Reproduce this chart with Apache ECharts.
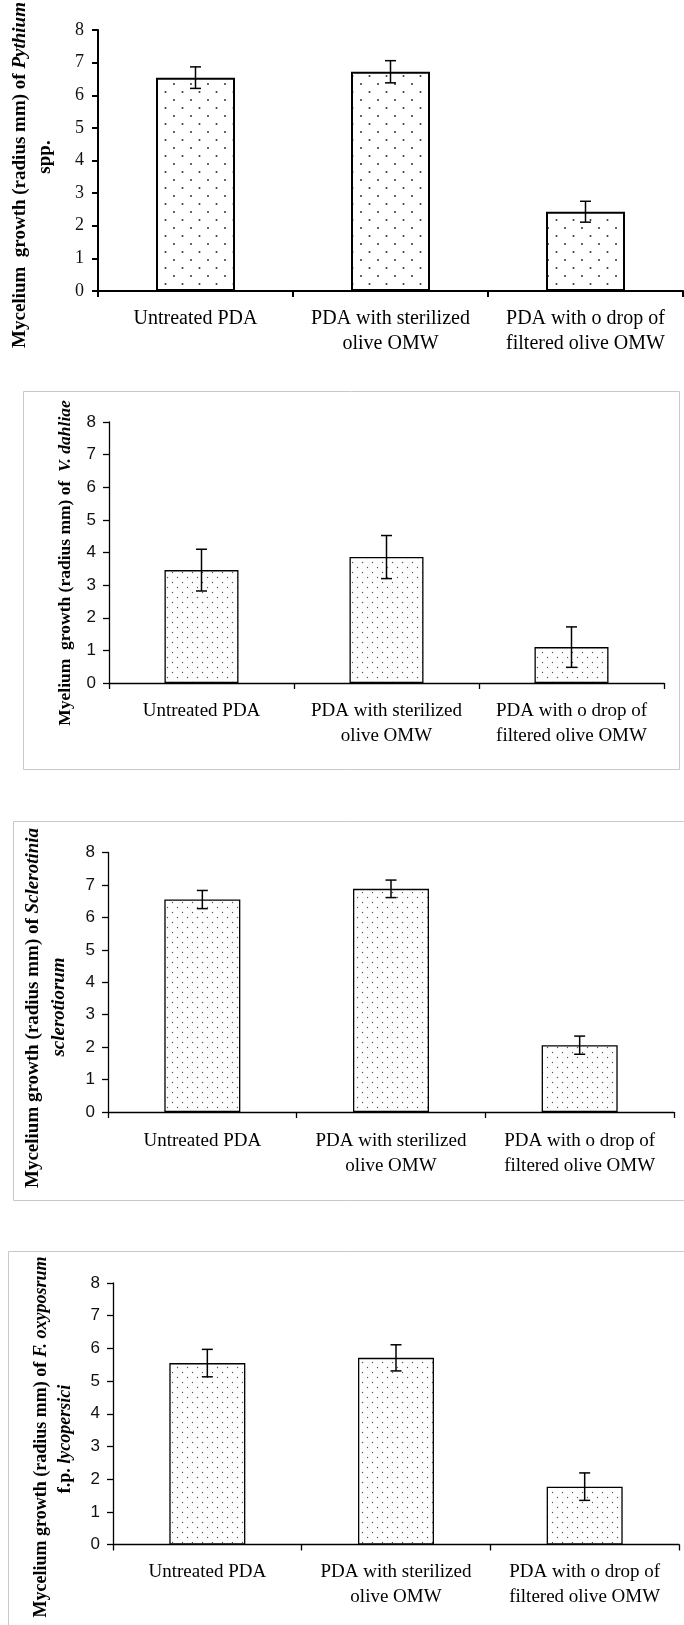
<!DOCTYPE html>
<html><head><meta charset="utf-8">
<script src="https://cdn.jsdelivr.net/npm/echarts@6/dist/echarts.min.js"></script>
<style>html,body{margin:0;padding:0;background:#fff}#c{width:684px;height:1625px}</style>
</head><body><div id="c"></div>
<script>
// ---- data ----
const categories = ['Untreated PDA', 'PDA with sterilized\nolive OMW', 'PDA with o drop of\nfiltered olive OMW'];
const yMin = 0, yMax = 8, yInterval = 1;
const pythiumMean = [6.54, 6.72, 2.43];
const pythiumErr  = [0.33, 0.34, 0.32];
const dahliaeMean = [3.46, 3.86, 1.10];
const dahliaeErr  = [0.64, 0.66, 0.62];
const scleroMean  = [6.55, 6.88, 2.06];
const scleroErr   = [0.28, 0.27, 0.28];
const fusMean     = [5.55, 5.71, 1.77];
const fusErr      = [0.42, 0.40, 0.42];

// ---- patterns ----
function makePattern(w, h, dots, r, color) {
  const c = document.createElement('canvas');
  c.width = w; c.height = h;
  const g = c.getContext('2d');
  g.fillStyle = '#fff'; g.fillRect(0, 0, w, h);
  g.fillStyle = color;
  dots.forEach(d => { g.beginPath(); g.arc(d[0], d[1], r, 0, Math.PI * 2); g.fill(); });
  return c;
}
const patCoarse = makePattern(17, 16, [[4, 4], [12.5, 12]], 1.0, '#333');
const patFine = makePattern(10, 10, [[2.5, 2.5], [7.5, 7.5]], 0.7, '#555');

// ---- layout ----
const panels = [
  { mean: pythiumMean, err: pythiumErr, grid: { left: 98, top: 30, width: 585, height: 261 }, barWidth: 79,
    tickFont: 'Liberation Serif', tickSize: 18, tickMargin: 14, labSize: 20, labMargin: 15, pat: patCoarse, lw: 2 },
  { mean: dahliaeMean, err: dahliaeErr, grid: { left: 109, top: 422, width: 555, height: 261 }, barWidth: 74,
    tickFont: 'Liberation Sans', tickSize: 17, tickMargin: 13, labSize: 19, labMargin: 16, pat: patFine, lw: 1.3 },
  { mean: scleroMean, err: scleroErr, grid: { left: 108, top: 852.5, width: 566, height: 259.5 }, barWidth: 76,
    tickFont: 'Liberation Sans', tickSize: 17, tickMargin: 13, labSize: 19, labMargin: 17, pat: patFine, lw: 1.3 },
  { mean: fusMean, err: fusErr, grid: { left: 113, top: 1283, width: 566, height: 261.5 }, barWidth: 76,
    tickFont: 'Liberation Sans', tickSize: 17, tickMargin: 13, labSize: 19, labMargin: 15, pat: patFine, lw: 1.3 }
];

const grid = [], xAxis = [], yAxis = [], series = [];
panels.forEach((p, i) => {
  grid.push(Object.assign({ containLabel: false }, p.grid));
  xAxis.push({
    type: 'category', gridIndex: i, data: categories,
    axisLine: { lineStyle: { color: '#000', width: p.lw } },
    axisTick: { show: true, length: 6, alignWithLabel: false, lineStyle: { color: '#000', width: p.lw } },
    axisLabel: { interval: 0, fontFamily: 'Liberation Serif', fontSize: p.labSize, lineHeight: 25, color: '#000', margin: p.labMargin },
    splitLine: { show: false }
  });
  yAxis.push({
    type: 'value', gridIndex: i, min: yMin, max: yMax, interval: yInterval,
    axisLine: { show: true, lineStyle: { color: '#000', width: p.lw } },
    axisTick: { show: true, length: 6, lineStyle: { color: '#000', width: p.lw } },
    axisLabel: { fontFamily: p.tickFont, fontSize: p.tickSize, color: '#111', margin: p.tickMargin },
    splitLine: { show: false }
  });
  series.push({
    type: 'bar', xAxisIndex: i, yAxisIndex: i, data: p.mean, barWidth: p.barWidth,
    itemStyle: { color: { image: p.pat, repeat: 'repeat' }, borderColor: '#000', borderWidth: p.lw },
    emphasis: { disabled: true }, animation: false
  });
  series.push({
    type: 'custom', xAxisIndex: i, yAxisIndex: i, z: 10, animation: false,
    data: p.mean.map((m, j) => [j, m - p.err[j], m + p.err[j]]),
    encode: { x: 0, y: [1, 2] },
    renderItem: function (params, api) {
      const lo = api.coord([api.value(0), api.value(1)]);
      const hi = api.coord([api.value(0), api.value(2)]);
      const w = 5.5, st = { stroke: '#000', lineWidth: 1.5 };
      return { type: 'group', children: [
        { type: 'line', shape: { x1: hi[0], y1: hi[1], x2: lo[0], y2: lo[1] }, style: st },
        { type: 'line', shape: { x1: hi[0] - w, y1: hi[1], x2: hi[0] + w, y2: hi[1] }, style: st },
        { type: 'line', shape: { x1: lo[0] - w, y1: lo[1], x2: lo[0] + w, y2: lo[1] }, style: st }
      ] };
    }
  });
});

const bold = { fontFamily: 'Liberation Serif', fontWeight: 'bold', fill: '#000' };
function rt(size) {
  return {
    b: Object.assign({ fontSize: size }, bold, { fontStyle: 'normal' }),
    i: Object.assign({ fontSize: size }, bold, { fontStyle: 'italic' })
  };
}
function vtext(x, y, text, size) {
  return { type: 'text', x: x, y: y, rotation: Math.PI / 2, z: 20,
    style: { text: text, rich: rt(size), align: 'center', verticalAlign: 'middle',
      fontFamily: 'Liberation Serif', fontWeight: 'bold', fontSize: size, fill: '#000' } };
}
const frameStyle = { stroke: '#c8c8c8', fill: 'none', lineWidth: 1 };
const graphic = [
  { type: 'rect', shape: { x: 23.5, y: 391.5, width: 656, height: 378 }, style: frameStyle, z: 0 },
  { type: 'rect', shape: { x: 13.5, y: 821.5, width: 672, height: 379 }, style: frameStyle, z: 0 },
  { type: 'rect', shape: { x: 8.5, y: 1251.5, width: 677, height: 400 }, style: frameStyle, z: 0 },
  vtext(20, 175, '{b|Mycelium  growth (radius mm) of }{i|Pythium}', 19),
  vtext(45, 157, '{b|spp.}', 19),
  vtext(65, 563, '{b|Myelium  growth (radius mm) of  }{i|V. dahliae}', 17.5),
  vtext(33, 1008, '{b|Mycelium growth (radius mm) of }{i|Sclerotinia}', 19),
  vtext(59, 1007, '{i|sclerotiorum}', 19),
  vtext(41, 1437, '{b|Mycelium growth (radius mm) of }{i|F. oxyposrum}', 18),
  vtext(65, 1439, '{b|f.p. }{i|lycopersici}', 18)
];

const chart = echarts.init(document.getElementById('c'), null, { renderer: 'canvas' });
chart.setOption({ animation: false, backgroundColor: '#fff', grid, xAxis, yAxis, series, graphic });
</script>
</body></html>
